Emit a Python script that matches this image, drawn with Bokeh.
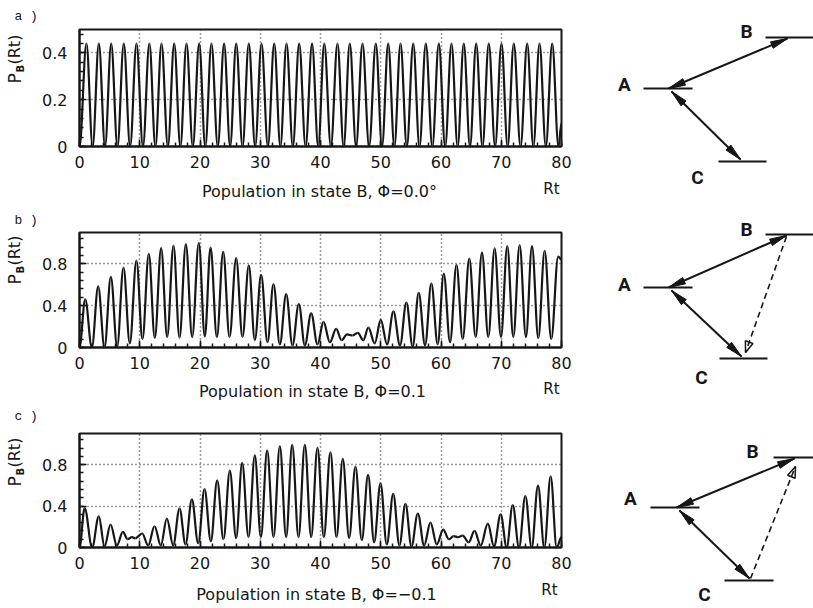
import math
import numpy as np
from bokeh.plotting import figure
from bokeh.models import Range1d, FixedTicker, Label, ColumnDataSource, CustomJSTickFormatter
from bokeh.layouts import row, column
from bokeh.embed import file_html
from bokeh.resources import INLINE

# ---------------------------------------------------------------- data
RT_TICKS = [0, 10, 20, 30, 40, 50, 60, 70, 80]
RT_GRID = [10, 20, 30, 40, 50, 60, 70]

# panel a  (phi = 0.0) : maxima and minima of P_B(Rt)
A_PEAK_RT = [1.15, 3.21, 5.26, 7.35, 9.46, 11.6, 13.61, 15.72, 17.76, 19.86, 21.9, 24.0,
             26.01, 28.1, 30.21, 32.32, 34.36, 36.46, 38.6, 40.63, 42.82, 44.86, 46.97,
             49.18, 51.24, 53.28, 55.39, 57.48, 59.64, 61.74, 63.78, 65.84, 67.93, 70.04,
             72.08, 74.31, 76.35, 78.46]
A_PEAK_PB = [0.44, 0.44, 0.44, 0.44, 0.44, 0.44, 0.44, 0.44, 0.44, 0.44, 0.44, 0.44,
             0.44, 0.44, 0.44, 0.44, 0.44, 0.44, 0.44, 0.44, 0.44, 0.44, 0.44,
             0.44, 0.44, 0.44, 0.44, 0.44, 0.44, 0.44, 0.44, 0.44, 0.44, 0.44,
             0.44, 0.44, 0.44, 0.44]
A_LOW_RT = [0, 2.18, 4.24, 6.3, 8.4, 10.53, 12.6, 14.67, 16.74, 18.81, 20.88, 22.95, 25.0,
            27.06, 29.15, 31.27, 33.34, 35.41, 37.53, 39.62, 41.72, 43.84, 45.9, 48.07,
            50.21, 52.26, 54.33, 56.43, 58.56, 60.69, 62.76, 64.81, 66.88, 68.98, 71.06,
            73.2, 75.33, 77.4, 79.5, 80]
A_LOW_PB = [0, 0, 0, 0, 0, 0, 0, 0, 0, 0, 0, 0, 0,
            0, 0, 0, 0, 0, 0, 0, 0, 0, 0, 0,
            0, 0, 0, 0, 0, 0, 0, 0, 0, 0, 0,
            0, 0, 0, 0, 0.1]

# panel b  (phi = 0.1)
B_PEAK_RT = [0.95, 3.1, 5.2, 7.3, 9.45, 11.5, 13.55, 15.6, 17.65, 19.8, 21.75, 23.85, 26.0,
             28.1, 30.15, 32.2, 34.3, 36.4, 38.45, 40.5, 42.6, 44.4, 46.2, 47.95, 50.0,
             52.1, 54.25, 56.3, 58.4, 60.46, 62.57, 64.7, 66.8, 68.9, 71.0, 73.05, 75.1,
             77.2, 79.45]
B_PEAK_PB = [0.46, 0.584, 0.676, 0.765, 0.832, 0.895, 0.95, 0.975, 0.988, 1.0, 0.955, 0.915,
             0.854, 0.785, 0.694, 0.607, 0.51, 0.416, 0.327, 0.245, 0.178, 0.125, 0.14, 0.19,
             0.264, 0.345, 0.43, 0.522, 0.613, 0.708, 0.79, 0.851, 0.908, 0.949, 0.971, 0.98,
             0.971, 0.924, 0.87]
B_LOW_RT = [0, 2.05, 4.15, 6.25, 8.35, 10.45, 12.5, 14.55, 16.6, 18.7, 20.8, 22.8, 24.9,
            27.05, 29.1, 31.2, 33.25, 35.35, 37.4, 39.5, 41.55, 43.5, 45.3, 47.1, 49.0,
            51.05, 53.2, 55.3, 57.35, 59.45, 61.5, 63.6, 65.75, 67.85, 69.95, 72.0, 74.1,
            76.15, 78.3, 80]
B_LOW_PB = [0, 0, 0, 0.01, 0.04, 0.08, 0.09, 0.1, 0.095, 0.1, 0.105, 0.1, 0.1,
            0.1, 0.07, 0.05, 0.03, 0.02, 0.02, 0.03, 0.05, 0.07, 0.115, 0.07, 0.04,
            0.03, 0.02, 0.01, 0.02, 0.03, 0.05, 0.08, 0.1, 0.1, 0.1, 0.1, 0.1,
            0.09, 0.08, 0.84]

# panel c  (phi = -0.1)
C_PEAK_RT = [0.85, 3.2, 5.15, 7.2, 8.7, 10.4, 12.45, 14.5, 16.6, 18.65, 20.75, 22.85, 24.95,
             27.0, 29.1, 31.15, 33.25, 35.3, 37.4, 39.5, 41.65, 43.7, 45.8, 47.9, 49.96,
             52.07, 54.1, 56.15, 58.25, 60.36, 62.1, 63.6, 65.56, 67.77, 69.9, 71.9, 74.0,
             76.1, 78.2]
C_PEAK_PB = [0.38, 0.30, 0.22, 0.15, 0.1, 0.135, 0.205, 0.28, 0.377, 0.465, 0.563, 0.647, 0.741,
             0.816, 0.888, 0.937, 0.979, 0.99, 0.99, 0.963, 0.92, 0.855, 0.78, 0.70, 0.62,
             0.517, 0.42, 0.328, 0.24, 0.172, 0.11, 0.115, 0.16, 0.23, 0.32, 0.41, 0.497,
             0.598, 0.686]
C_LOW_RT = [0, 2.1, 4.15, 6.2, 8.0, 9.3, 11.4, 13.5, 15.55, 17.6, 19.7, 21.8, 23.9, 26.0,
            28.05, 30.1, 32.2, 34.3, 36.35, 38.45, 40.55, 42.65, 44.75, 46.85, 48.9, 51.0,
            53.1, 55.1, 57.2, 59.3, 61.3, 62.8, 64.6, 66.6, 68.8, 70.9, 72.95, 75.05, 77.15,
            79.2, 80]
C_LOW_PB = [0, 0, 0.01, 0.02, 0.08, 0.09, 0.02, 0.02, 0.02, 0.03, 0.04, 0.06, 0.08, 0.09,
            0.1, 0.1, 0.1, 0.1, 0.1, 0.1, 0.1, 0.1, 0.09, 0.07, 0.05, 0.03,
            0.02, 0.01, 0.02, 0.03, 0.08, 0.1, 0.05, 0.02, 0.01, 0, 0, 0, 0,
            0, 0.1]

Y_MAX = [0.5, 1.1, 1.1]
Y_TICKS = [[0, 0.2, 0.4], [0, 0.4, 0.8], [0, 0.4, 0.8]]
LETTERS = ["a )", "b )", "c )"]
CAPTIONS = ["Population in state B, \u03a6=0.0\u00b0",
            "Population in state B, \u03a6=0.1",
            "Population in state B, \u03a6=\u22120.1"]

# level scheme (schematic, page pixel space)
LEVEL_NAMES = ["A", "B", "C"]
LEVEL_X0 = [[643, 765, 718], [643, 765, 719], [650, 773, 724]]
LEVEL_X1 = [[692, 813, 766], [692, 813, 767], [699, 813, 773]]
LEVEL_Y = [[88, 37, 161], [287, 234, 358], [507, 457, 580]]
NAME_POS = [[(624, 84), (746, 31), (697, 177)],
            [(624, 284), (746, 229), (701, 377)],
            [(630, 498), (752, 451), (704, 594)]]
AB_LINE = [((668, 88), (787, 38)), ((668, 287), (786, 235)), ((676, 507), (794, 458))]
AC_LINE = [((671, 91), (740, 159)), ((671, 290), (741, 356)), ((679, 510), (749, 578))]
DASH_LINE = [None, ((786, 236), (745, 352)), ((750, 578), (795, 466))]

# ---------------------------------------------------------------- style / layout (page px)
INK = "#161616"
GRID_INK = "#3a3a3a"
SANS = "DejaVu Sans"
PLOT_RIGHT = 600                 # plots occupy 0..600, schemes 600..813
W_DIAG = 213
STRIP_W = 39
ROW_TOP = [0, 203, 405]
ROW_H = [203, 202, 203]
CAP_H = [28, 28, 28]
FRAME_L, FRAME_R = 79, 561
FRAME_TOP = [29, 232, 433]
FRAME_BOT = [146, 347, 547]
K = 0.36
LETTER_POS = [(14, 16), (14, 220), (14, 416)]
CAPTION_POS = [(319, 191), (312, 391), (316, 594)]
RT_POS = [(551, 188), (551, 388), (549, 589)]
YLAB_Y = [83, 284, 486]


def text(fig, x, y, s, size, font=SANS, align="left", baseline="middle", angle=0, style="normal"):
    fig.add_layout(Label(x=x, y=y, text=s, text_font=font, text_font_size=size,
                         text_color=INK, text_align=align, text_baseline=baseline,
                         angle=angle, text_font_style=style))


def blank(width, height, xr, yr, **kw):
    f = figure(width=width, height=height, x_range=Range1d(*xr), y_range=Range1d(*yr),
               output_backend="svg", toolbar_location=None,
               x_axis_location=None, y_axis_location=None, **kw)
    f.grid.visible = False
    f.outline_line_color = None
    return f


def panel(i, prt, ppb, lrt, lpb):
    top, h, ymax = ROW_TOP[i], ROW_H[i], Y_MAX[i]
    ph = h - CAP_H[i]
    fw = PLOT_RIGHT - STRIP_W
    p = figure(width=fw, height=ph, x_range=Range1d(0, 80),
               y_range=Range1d(0, ymax), output_backend="svg", toolbar_location=None,
               min_border_left=FRAME_L - STRIP_W, min_border_right=PLOT_RIGHT - FRAME_R,
               min_border_top=FRAME_TOP[i] - top, min_border_bottom=top + ph - FRAME_BOT[i])
    p.outline_line_color = INK
    p.outline_line_width = 2
    p.outline_line_alpha = 1

    xa = p.xaxis[0]
    xa.ticker = FixedTicker(ticks=RT_TICKS, minor_ticks=list(range(0, 81, 2)))
    ya = p.yaxis[0]
    ystep = Y_TICKS[i][1] / 5
    ya.ticker = FixedTicker(ticks=Y_TICKS[i],
                            minor_ticks=[round(v, 4) for v in np.arange(0, ymax + 1e-9, ystep)])
    ya.formatter = CustomJSTickFormatter(code="return tick == 0 ? '0' : tick.toFixed(1);")
    for ax in (xa, ya):
        ax.axis_line_color = INK
        ax.axis_line_width = 2
        ax.major_tick_in = 7
        ax.major_tick_out = 0
        ax.minor_tick_in = 4
        ax.minor_tick_out = 0
        ax.major_tick_line_color = INK
        ax.major_tick_line_width = 1.5
        ax.minor_tick_line_color = INK
        ax.minor_tick_line_width = 1.5
        ax.major_label_text_font = SANS
        ax.major_label_text_font_size = "16px"
        ax.major_label_text_color = INK
    xa.major_label_standoff = 9
    ya.major_label_standoff = 12

    p.xgrid.ticker = FixedTicker(ticks=RT_GRID)
    p.ygrid.ticker = FixedTicker(ticks=Y_TICKS[i][1:])
    for g in (p.xgrid[0], p.ygrid[0]):
        g.grid_line_color = GRID_INK
        g.grid_line_dash = "1 3"
        g.grid_line_width = 1.5

    pts = sorted(zip(prt + lrt, ppb + lpb))
    xs = np.array([a for a, b in pts], dtype=float)
    ys = np.array([b for a, b in pts], dtype=float)
    x0, x1, y0, y1 = xs[:-1], xs[1:], ys[:-1], ys[1:]
    dx = x1 - x0
    src = ColumnDataSource(dict(x0=x0, y0=y0, x1=x1, y1=y1,
                                cx0=x0 + K * dx, cy0=y0, cx1=x1 - K * dx, cy1=y1))
    p.bezier(x0="x0", y0="y0", x1="x1", y1="y1", cx0="cx0", cy0="cy0",
             cx1="cx1", cy1="cy1", source=src, line_color=INK, line_width=2.2)

    # left strip: panel letter and rotated y label (page pixel coordinates)
    s = blank(STRIP_W, h, (0, STRIP_W), (top + h, top), min_border=0)
    text(s, LETTER_POS[i][0], LETTER_POS[i][1], LETTERS[i], "13px", font="Liberation Mono")
    yl = YLAB_Y[i]
    text(s, 14, yl, "P", "17px", angle=math.pi / 2)
    text(s, 20, yl - 11, "B", "10px", angle=math.pi / 2, style="bold")
    text(s, 14, yl - 19, "(Rt)", "16px", angle=math.pi / 2)

    # caption strip under the axis, frame aligned with the plot frame
    c = blank(fw, CAP_H[i], (FRAME_L, FRAME_R), (top + h, top + ph),
              min_border_left=FRAME_L - STRIP_W, min_border_right=PLOT_RIGHT - FRAME_R,
              min_border_top=0, min_border_bottom=0)
    text(c, CAPTION_POS[i][0], CAPTION_POS[i][1], CAPTIONS[i], "16px", align="center")
    text(c, RT_POS[i][0], RT_POS[i][1], "Rt", "15px", align="center")

    return row(s, column(p, c))


ra = panel(0, A_PEAK_RT, A_PEAK_PB, A_LOW_RT, A_LOW_PB)
rb = panel(1, B_PEAK_RT, B_PEAK_PB, B_LOW_RT, B_LOW_PB)
rc = panel(2, C_PEAK_RT, C_PEAK_PB, C_LOW_RT, C_LOW_PB)

# ---------------------------------------------------------------- level schemes
d = blank(W_DIAG, sum(ROW_H), (PLOT_RIGHT, PLOT_RIGHT + W_DIAG), (sum(ROW_H), 0), min_border=0)


def head(tip, frm, length, half):
    tx, ty = tip
    fx, fy = frm
    L = math.hypot(tx - fx, ty - fy)
    ux, uy = (tx - fx) / L, (ty - fy) / L
    nx, ny = -uy, ux
    bx, by = tx - length * ux, ty - length * uy
    return [tx, bx + half * nx, bx - half * nx], [ty, by + half * ny, by - half * ny]


solid_x, solid_y, open_x, open_y = [], [], [], []
for i in range(3):
    d.segment(x0=LEVEL_X0[i], x1=LEVEL_X1[i], y0=LEVEL_Y[i], y1=LEVEL_Y[i],
              line_color=INK, line_width=2)
    for (a, b) in (AB_LINE[i], AC_LINE[i]):
        d.line(x=[a[0], b[0]], y=[a[1], b[1]], line_color=INK, line_width=2)
        for tip, frm in ((b, a), (a, b)):
            hx, hy = head(tip, frm, 17, 3.5)
            solid_x.append(hx)
            solid_y.append(hy)
    if DASH_LINE[i] is not None:
        a, b = DASH_LINE[i]
        d.line(x=[a[0], b[0]], y=[a[1], b[1]], line_color=INK, line_width=1.6, line_dash="6 4")
        hx, hy = head(b, a, 11, 4)
        open_x.append(hx)
        open_y.append(hy)
    for name, (lx, ly) in zip(LEVEL_NAMES, NAME_POS[i]):
        text(d, lx, ly, name, "19px", font="Roboto", align="center", style="bold")

d.patches(xs=solid_x, ys=solid_y, fill_color=INK, line_color=INK, line_width=1)
d.patches(xs=open_x, ys=open_y, fill_color=None, line_color=INK, line_width=1.5)

layout = row(column(ra, rb, rc), d)
open("out.html", "w").write(file_html(layout, INLINE))
